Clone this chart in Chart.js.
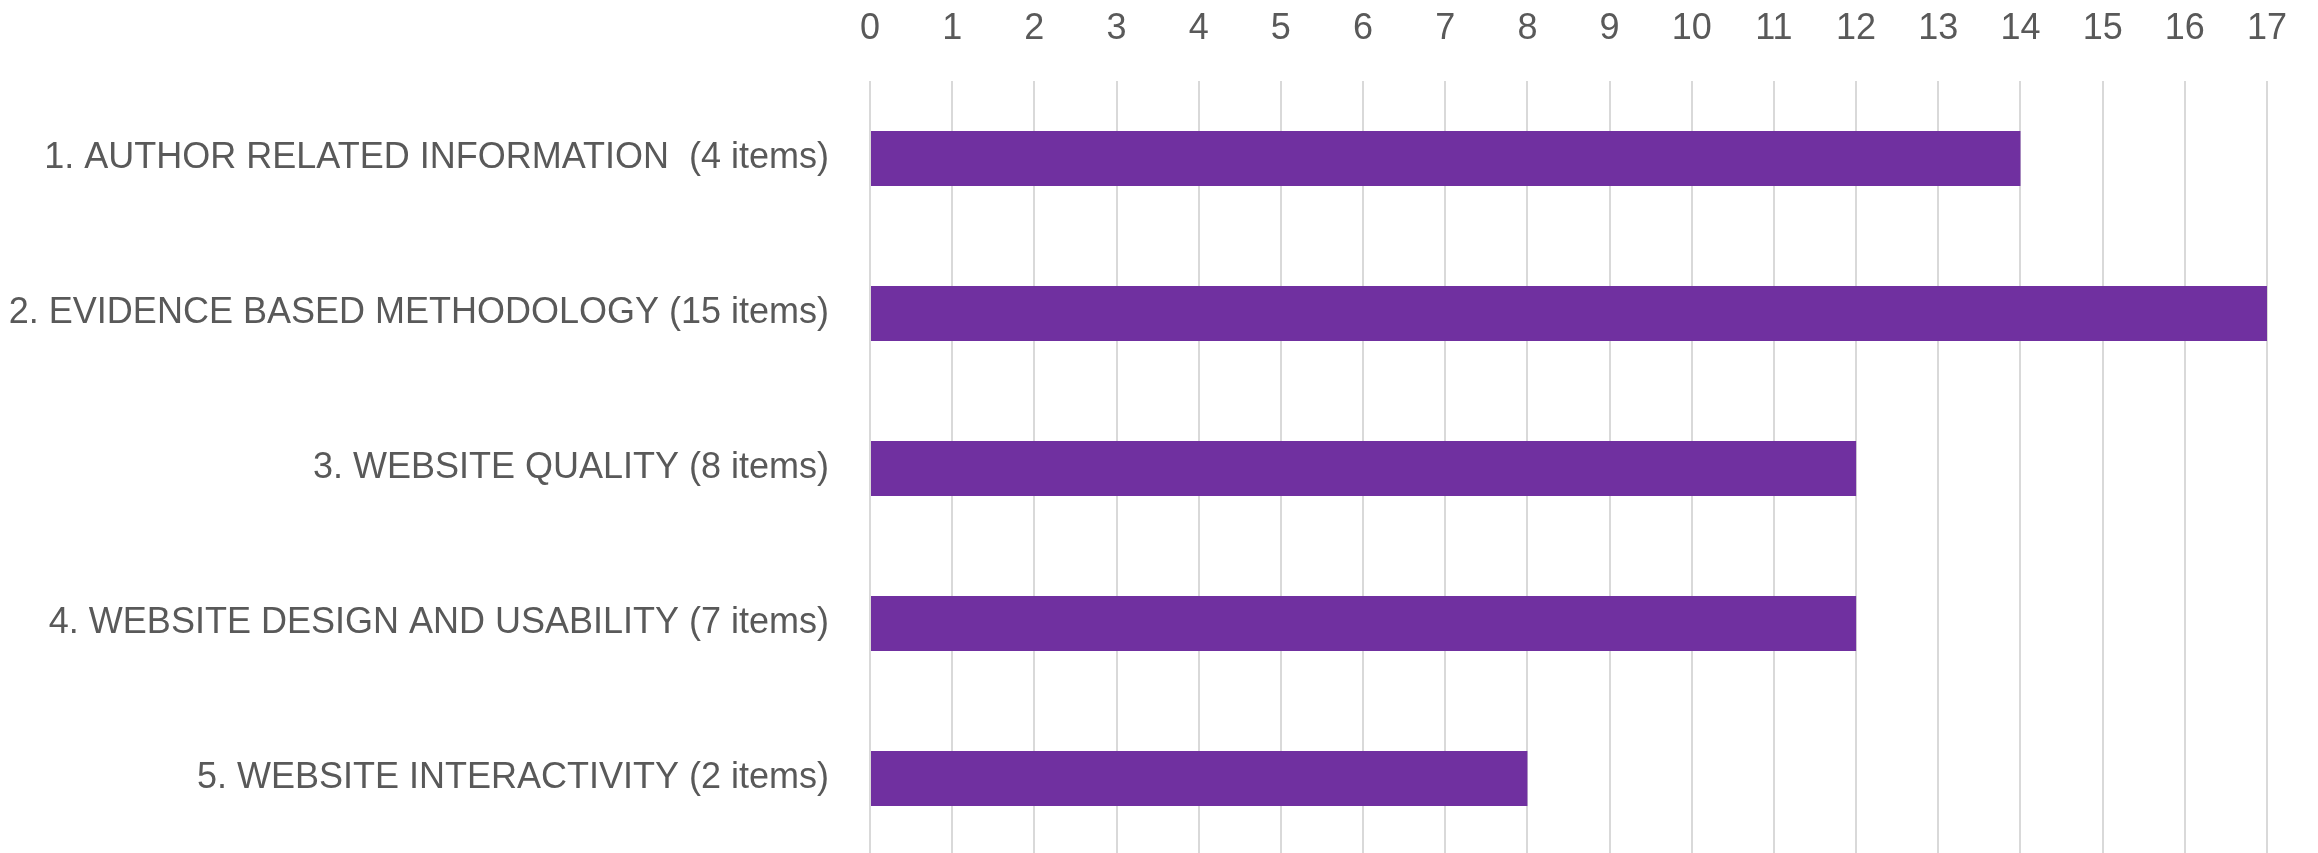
<!DOCTYPE html>
<html lang="en">
<head>
    <meta charset="UTF-8">
    <title>Website Criteria</title>
    <script src="https://cdn.jsdelivr.net/npm/chart.js"></script>
    <style>
        html, body {
            margin: 0;
            padding: 0;
            background: white;
            overflow: hidden;
        }
        #wrap {
            position: relative;
            width: 2318px;
            height: 856px;
        }
    </style>
</head>
<body>
    <div id="wrap">
        <canvas id="myChart"></canvas>
    </div>
    <script>
        const categories = [
            '1. AUTHOR RELATED INFORMATION  (4 items)',
            '2. EVIDENCE BASED METHODOLOGY (15 items)',
            '3. WEBSITE QUALITY (8 items)',
            '4. WEBSITE DESIGN AND USABILITY (7 items)',
            '5. WEBSITE INTERACTIVITY (2 items)'
        ];
        const counts = [14, 17, 12, 12, 8];
        const axisMin = 0;
        const axisMax = 17;

        const textColor = '#595959';
        const font = { family: "'Liberation Sans', Arial, sans-serif", size: 36 };

        const ctx = document.getElementById('myChart').getContext('2d');
        const chart = new Chart(ctx, {
            type: 'bar',
            data: {
                labels: categories,
                datasets: [{
                    data: counts,
                    backgroundColor: '#7030A0',
                    borderWidth: 0,
                    categoryPercentage: 1,
                    barPercentage: 0.355
                }]
            },
            options: {
                indexAxis: 'y',
                responsive: true,
                maintainAspectRatio: false,
                animation: false,
                layout: { padding: { left: 0, right: 51, top: 0, bottom: 0 } },
                plugins: {
                    legend: { display: false },
                    tooltip: { enabled: false }
                },
                scales: {
                    x: {
                        position: 'top',
                        min: axisMin,
                        max: axisMax,
                        ticks: {
                            stepSize: 1,
                            color: textColor,
                            font: font,
                            padding: 30,
                            maxRotation: 0
                        },
                        grid: {
                            color: '#d9d9d9',
                            lineWidth: 2,
                            drawTicks: false
                        },
                        border: { display: false },
                        afterFit: function(scale) { scale.height = 81; }
                    },
                    y: {
                        ticks: {
                            color: textColor,
                            font: font,
                            padding: 41
                        },
                        grid: { display: false, drawTicks: false },
                        border: { display: false },
                        afterFit: function(scale) {
                            // keep the plot flush with the bottom edge
                            scale.width = 870;
                            scale.paddingTop = 0;
                            scale.paddingBottom = 0;
                        }
                    }
                }
            }
        });
    </script>
</body>
</html>
